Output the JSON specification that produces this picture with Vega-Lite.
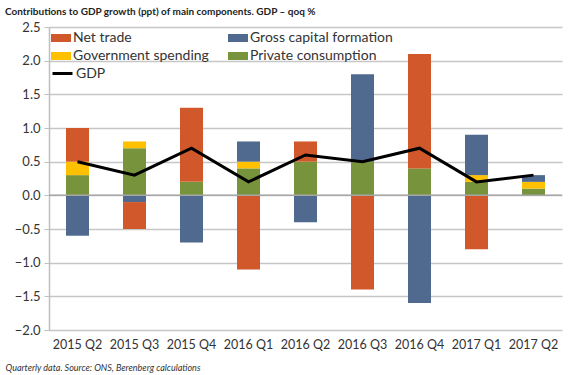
{
  "$schema": "https://vega.github.io/schema/vega-lite/v6.json",
  "width": 513,
  "height": 303,
  "autosize": "none",
  "padding": {"left": 49, "top": 27, "right": 8, "bottom": 45},
  "background": "white",
  "title": {
    "text": "Contributions  to GDP growth (ppt) of main components. GDP – qoq %",
    "anchor": "start",
    "frame": "group",
    "dx": -44,
    "offset": 4,
    "fontSize": 10,
    "font": "Lato",
    "fontWeight": "bold",
    "color": "#222222"
  },
  "config": {
    "view": {"stroke": null},
    "font": "Lato",
    "axis": {"labelFont": "Lato", "labelColor": "#333333", "labelFontSize": 13},
    "axisY": {
      "values": [-2, -1.5, -1, -0.5, 0, 0.5, 1, 1.5, 2, 2.5],
      "format": ".1f",
      "labelOverlap": false,
      "labelFlush": false,
      "gridColor": "#c6c6c6",
      "gridWidth": 1.5,
      "domainColor": "#bfbfbf",
      "domainWidth": 1.5,
      "tickColor": "#bfbfbf",
      "tickSize": 5,
      "labelPadding": 4,
      "title": null
    }
  },
  "datasets": {
    "bars": [
      {"q": "2015 Q2", "component": "Private consumption", "o": 1, "value": 0.3},
      {"q": "2015 Q2", "component": "Government spending", "o": 2, "value": 0.2},
      {"q": "2015 Q2", "component": "Gross capital formation", "o": 3, "value": -0.6},
      {"q": "2015 Q2", "component": "Net trade", "o": 4, "value": 0.5},
      {"q": "2015 Q3", "component": "Private consumption", "o": 1, "value": 0.7},
      {"q": "2015 Q3", "component": "Government spending", "o": 2, "value": 0.1},
      {"q": "2015 Q3", "component": "Gross capital formation", "o": 3, "value": -0.1},
      {"q": "2015 Q3", "component": "Net trade", "o": 4, "value": -0.4},
      {"q": "2015 Q4", "component": "Private consumption", "o": 1, "value": 0.2},
      {"q": "2015 Q4", "component": "Government spending", "o": 2, "value": 0.0},
      {"q": "2015 Q4", "component": "Gross capital formation", "o": 3, "value": -0.7},
      {"q": "2015 Q4", "component": "Net trade", "o": 4, "value": 1.1},
      {"q": "2016 Q1", "component": "Private consumption", "o": 1, "value": 0.4},
      {"q": "2016 Q1", "component": "Government spending", "o": 2, "value": 0.1},
      {"q": "2016 Q1", "component": "Gross capital formation", "o": 3, "value": 0.3},
      {"q": "2016 Q1", "component": "Net trade", "o": 4, "value": -1.1},
      {"q": "2016 Q2", "component": "Private consumption", "o": 1, "value": 0.5},
      {"q": "2016 Q2", "component": "Government spending", "o": 2, "value": 0.0},
      {"q": "2016 Q2", "component": "Gross capital formation", "o": 3, "value": -0.4},
      {"q": "2016 Q2", "component": "Net trade", "o": 4, "value": 0.3},
      {"q": "2016 Q3", "component": "Private consumption", "o": 1, "value": 0.5},
      {"q": "2016 Q3", "component": "Government spending", "o": 2, "value": 0.0},
      {"q": "2016 Q3", "component": "Gross capital formation", "o": 3, "value": 1.3},
      {"q": "2016 Q3", "component": "Net trade", "o": 4, "value": -1.4},
      {"q": "2016 Q4", "component": "Private consumption", "o": 1, "value": 0.4},
      {"q": "2016 Q4", "component": "Government spending", "o": 2, "value": 0.0},
      {"q": "2016 Q4", "component": "Gross capital formation", "o": 3, "value": -1.6},
      {"q": "2016 Q4", "component": "Net trade", "o": 4, "value": 1.7},
      {"q": "2017 Q1", "component": "Private consumption", "o": 1, "value": 0.2},
      {"q": "2017 Q1", "component": "Government spending", "o": 2, "value": 0.1},
      {"q": "2017 Q1", "component": "Gross capital formation", "o": 3, "value": 0.6},
      {"q": "2017 Q1", "component": "Net trade", "o": 4, "value": -0.8},
      {"q": "2017 Q2", "component": "Private consumption", "o": 1, "value": 0.1},
      {"q": "2017 Q2", "component": "Government spending", "o": 2, "value": 0.1},
      {"q": "2017 Q2", "component": "Gross capital formation", "o": 3, "value": 0.1},
      {"q": "2017 Q2", "component": "Net trade", "o": 4, "value": 0.0}
    ],
    "gdp": [
      {"q": "2015 Q2", "series": "GDP", "value": 0.5},
      {"q": "2015 Q3", "series": "GDP", "value": 0.3},
      {"q": "2015 Q4", "series": "GDP", "value": 0.7},
      {"q": "2016 Q1", "series": "GDP", "value": 0.2},
      {"q": "2016 Q2", "series": "GDP", "value": 0.6},
      {"q": "2016 Q3", "series": "GDP", "value": 0.5},
      {"q": "2016 Q4", "series": "GDP", "value": 0.7},
      {"q": "2017 Q1", "series": "GDP", "value": 0.2},
      {"q": "2017 Q2", "series": "GDP", "value": 0.3}
    ]
  },
  "layer": [
    {
      "data": {"name": "bars"},
      "mark": {"type": "bar", "size": 23},
      "encoding": {
        "x": {
          "field": "q",
          "type": "ordinal",
          "sort": null,
          "axis": {
            "labelAngle": 0,
            "ticks": false,
            "domain": false,
            "labelPadding": 8,
            "labelFontSize": 12.5,
            "title": "Quarterly data. Source: ONS, Berenberg calculations",
            "titleFont": "Lato",
            "titleFontStyle": "italic",
            "titleFontWeight": "normal",
            "titleFontSize": 9,
            "titleColor": "#333333",
            "titleAlign": "left",
            "titleBaseline": "middle",
            "titleX": -44,
            "titleY": 37
          }
        },
        "y": {
          "field": "value",
          "type": "quantitative",
          "stack": "zero",
          "scale": {"domain": [-2, 2.5], "nice": false}
        },
        "color": {
          "field": "component",
          "type": "nominal",
          "scale": {
            "domain": ["Net trade", "Government spending", "Gross capital formation", "Private consumption"],
            "range": ["#D0582B", "#FFC000", "#50698F", "#77933C"]
          },
          "legend": {
            "title": null,
            "orient": "none",
            "legendX": 2,
            "legendY": 1,
            "columns": 2,
            "columnPadding": 19,
            "rowPadding": 1,
            "symbolType": "M-1,-0.4H1V0.4H-1Z",
            "symbolSize": 400,
            "symbolStrokeWidth": 0,
            "labelFont": "Lato",
            "labelFontSize": 14,
            "labelColor": "#333333",
            "labelOffset": 2
          }
        },
        "order": {"field": "o", "type": "quantitative"}
      }
    },
    {
      "data": {"values": [{"v": 0}]},
      "mark": {"type": "rule", "color": "#a6a6a6", "strokeWidth": 1.5},
      "encoding": {"y": {"field": "v", "type": "quantitative"}}
    },
    {
      "data": {"name": "gdp"},
      "mark": {"type": "line", "strokeWidth": 3},
      "encoding": {
        "x": {"field": "q", "type": "ordinal", "sort": null},
        "y": {"field": "value", "type": "quantitative"},
        "stroke": {
          "field": "series",
          "type": "nominal",
          "scale": {"domain": ["GDP"], "range": ["#000000"]},
          "legend": {
            "title": null,
            "orient": "none",
            "legendX": 2,
            "legendY": 35,
            "symbolType": "stroke",
            "symbolSize": 400,
            "symbolStrokeWidth": 3,
            "labelFont": "Lato",
            "labelFontSize": 14,
            "labelColor": "#333333",
            "labelOffset": 2
          }
        }
      }
    }
  ]
}
